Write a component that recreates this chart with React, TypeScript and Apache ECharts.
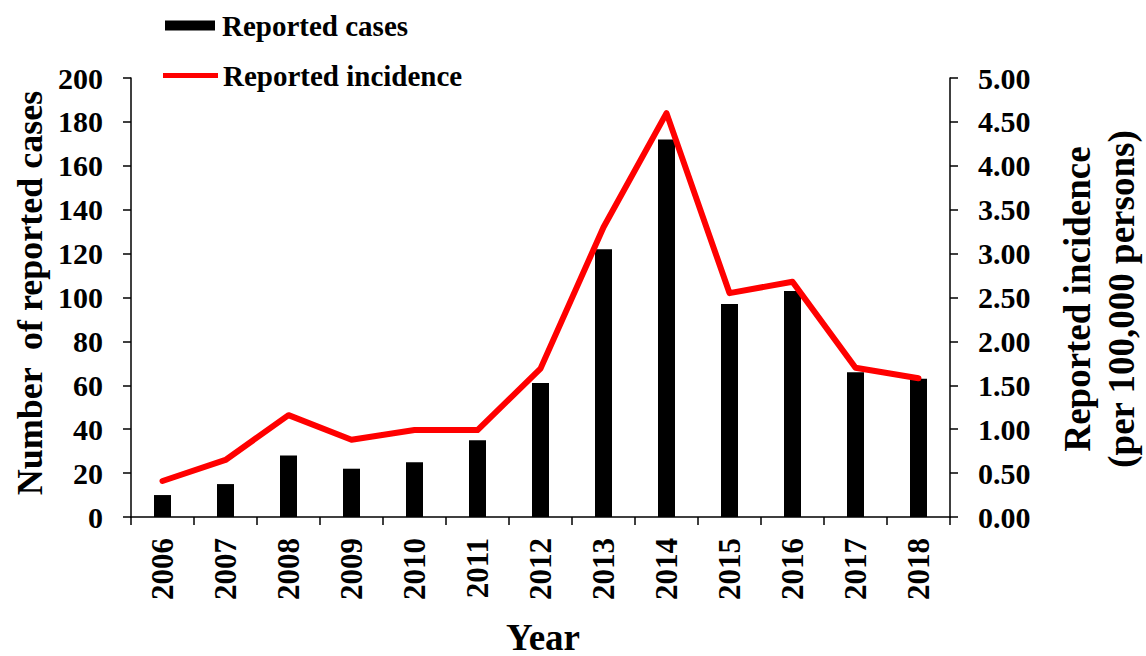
import React, { useEffect, useRef } from "react";
import * as echarts from "echarts";

const years = ["2006", "2007", "2008", "2009", "2010", "2011", "2012", "2013", "2014", "2015", "2016", "2017", "2018"];
const reportedCases = [10, 15, 28, 22, 25, 35, 61, 122, 172, 97, 103, 66, 63];
const reportedIncidence = [0.41, 0.65, 1.16, 0.88, 0.99, 0.99, 1.69, 3.30, 4.60, 2.55, 2.68, 1.70, 1.58];

const FONT = "Liberation Serif";

export default function App() {
  const ref = useRef<HTMLDivElement>(null);
  useEffect(() => {
    document.body.style.margin = "0";
    const chart = echarts.init(ref.current!, null, { renderer: "svg" });
    const axisLine = { show: true, lineStyle: { color: "#000", width: 1.5 } };
    const axisTick = { show: true, length: 8, lineStyle: { color: "#000", width: 1.5 } };
    const labelStyle = { color: "#000", fontFamily: FONT, fontWeight: "bold" as const, fontSize: 30 };
    chart.setOption({
      animation: false,
      backgroundColor: "#fff",
      textStyle: { fontFamily: FONT },
      grid: { left: 131, right: 196, top: 78, bottom: 139 },
      legend: [
        {
          data: [{ name: "Reported cases", icon: "rect" }],
          left: 165,
          top: 11,
          padding: 0,
          itemWidth: 50,
          itemHeight: 10,
          itemGap: 0,
          textStyle: { ...labelStyle, fontSize: 29, padding: [0, 0, 0, 2] },
          selectedMode: false,
        },
        {
          data: [{ name: "Reported incidence", icon: "rect" }],
          left: 163,
          top: 61,
          padding: 0,
          itemWidth: 55,
          itemHeight: 5,
          textStyle: { ...labelStyle, fontSize: 29 },
          selectedMode: false,
        },
      ],
      xAxis: {
        type: "category",
        data: years,
        boundaryGap: true,
        axisLine,
        axisTick: { ...axisTick, alignWithLabel: false },
        axisLabel: { ...labelStyle, fontSize: 31, rotate: 90, margin: 21 },
        splitLine: { show: false },
      },
      yAxis: [
        {
          type: "value",
          min: 0,
          max: 200,
          interval: 20,
          position: "left",
          axisLine,
          axisTick,
          axisLabel: { ...labelStyle, margin: 28 },
          splitLine: { show: false },
        },
        {
          type: "value",
          min: 0,
          max: 5,
          interval: 0.5,
          position: "right",
          axisLine,
          axisTick,
          axisLabel: { ...labelStyle, margin: 28, formatter: (v: number) => v.toFixed(2) },
          splitLine: { show: false },
        },
      ],
      series: [
        {
          name: "Reported cases",
          type: "bar",
          data: reportedCases,
          barWidth: 17,
          itemStyle: { color: "#000" },
          yAxisIndex: 0,
        },
        {
          name: "Reported incidence",
          type: "line",
          data: reportedIncidence,
          yAxisIndex: 1,
          symbol: "none",
          lineStyle: { color: "#ff0000", width: 6, cap: "round", join: "round" },
          itemStyle: { color: "#ff0000" },
        },
      ],
      graphic: [
        {
          type: "text",
          x: 30,
          y: 293,
          rotation: Math.PI / 2,
          style: {
            text: "Number  of reported cases",
            fill: "#000",
            fontFamily: FONT,
            fontWeight: "bold",
            fontSize: 36,
            align: "center",
            verticalAlign: "middle",
          },
        },
        {
          type: "text",
          x: 1099,
          y: 299,
          rotation: Math.PI / 2,
          style: {
            text: "Reported incidence\n(per 100,000 persons)",
            fill: "#000",
            fontFamily: FONT,
            fontWeight: "bold",
            fontSize: 37,
            lineHeight: 44,
            align: "center",
            verticalAlign: "middle",
          },
        },
        {
          type: "text",
          x: 543,
          y: 637,
          style: {
            text: "Year",
            fill: "#000",
            fontFamily: FONT,
            fontWeight: "bold",
            fontSize: 37,
            align: "center",
            verticalAlign: "middle",
          },
        },
      ],
    });
    return () => chart.dispose();
  }, []);
  return <div ref={ref} style={{ width: 1146, height: 656 }} />;
}
